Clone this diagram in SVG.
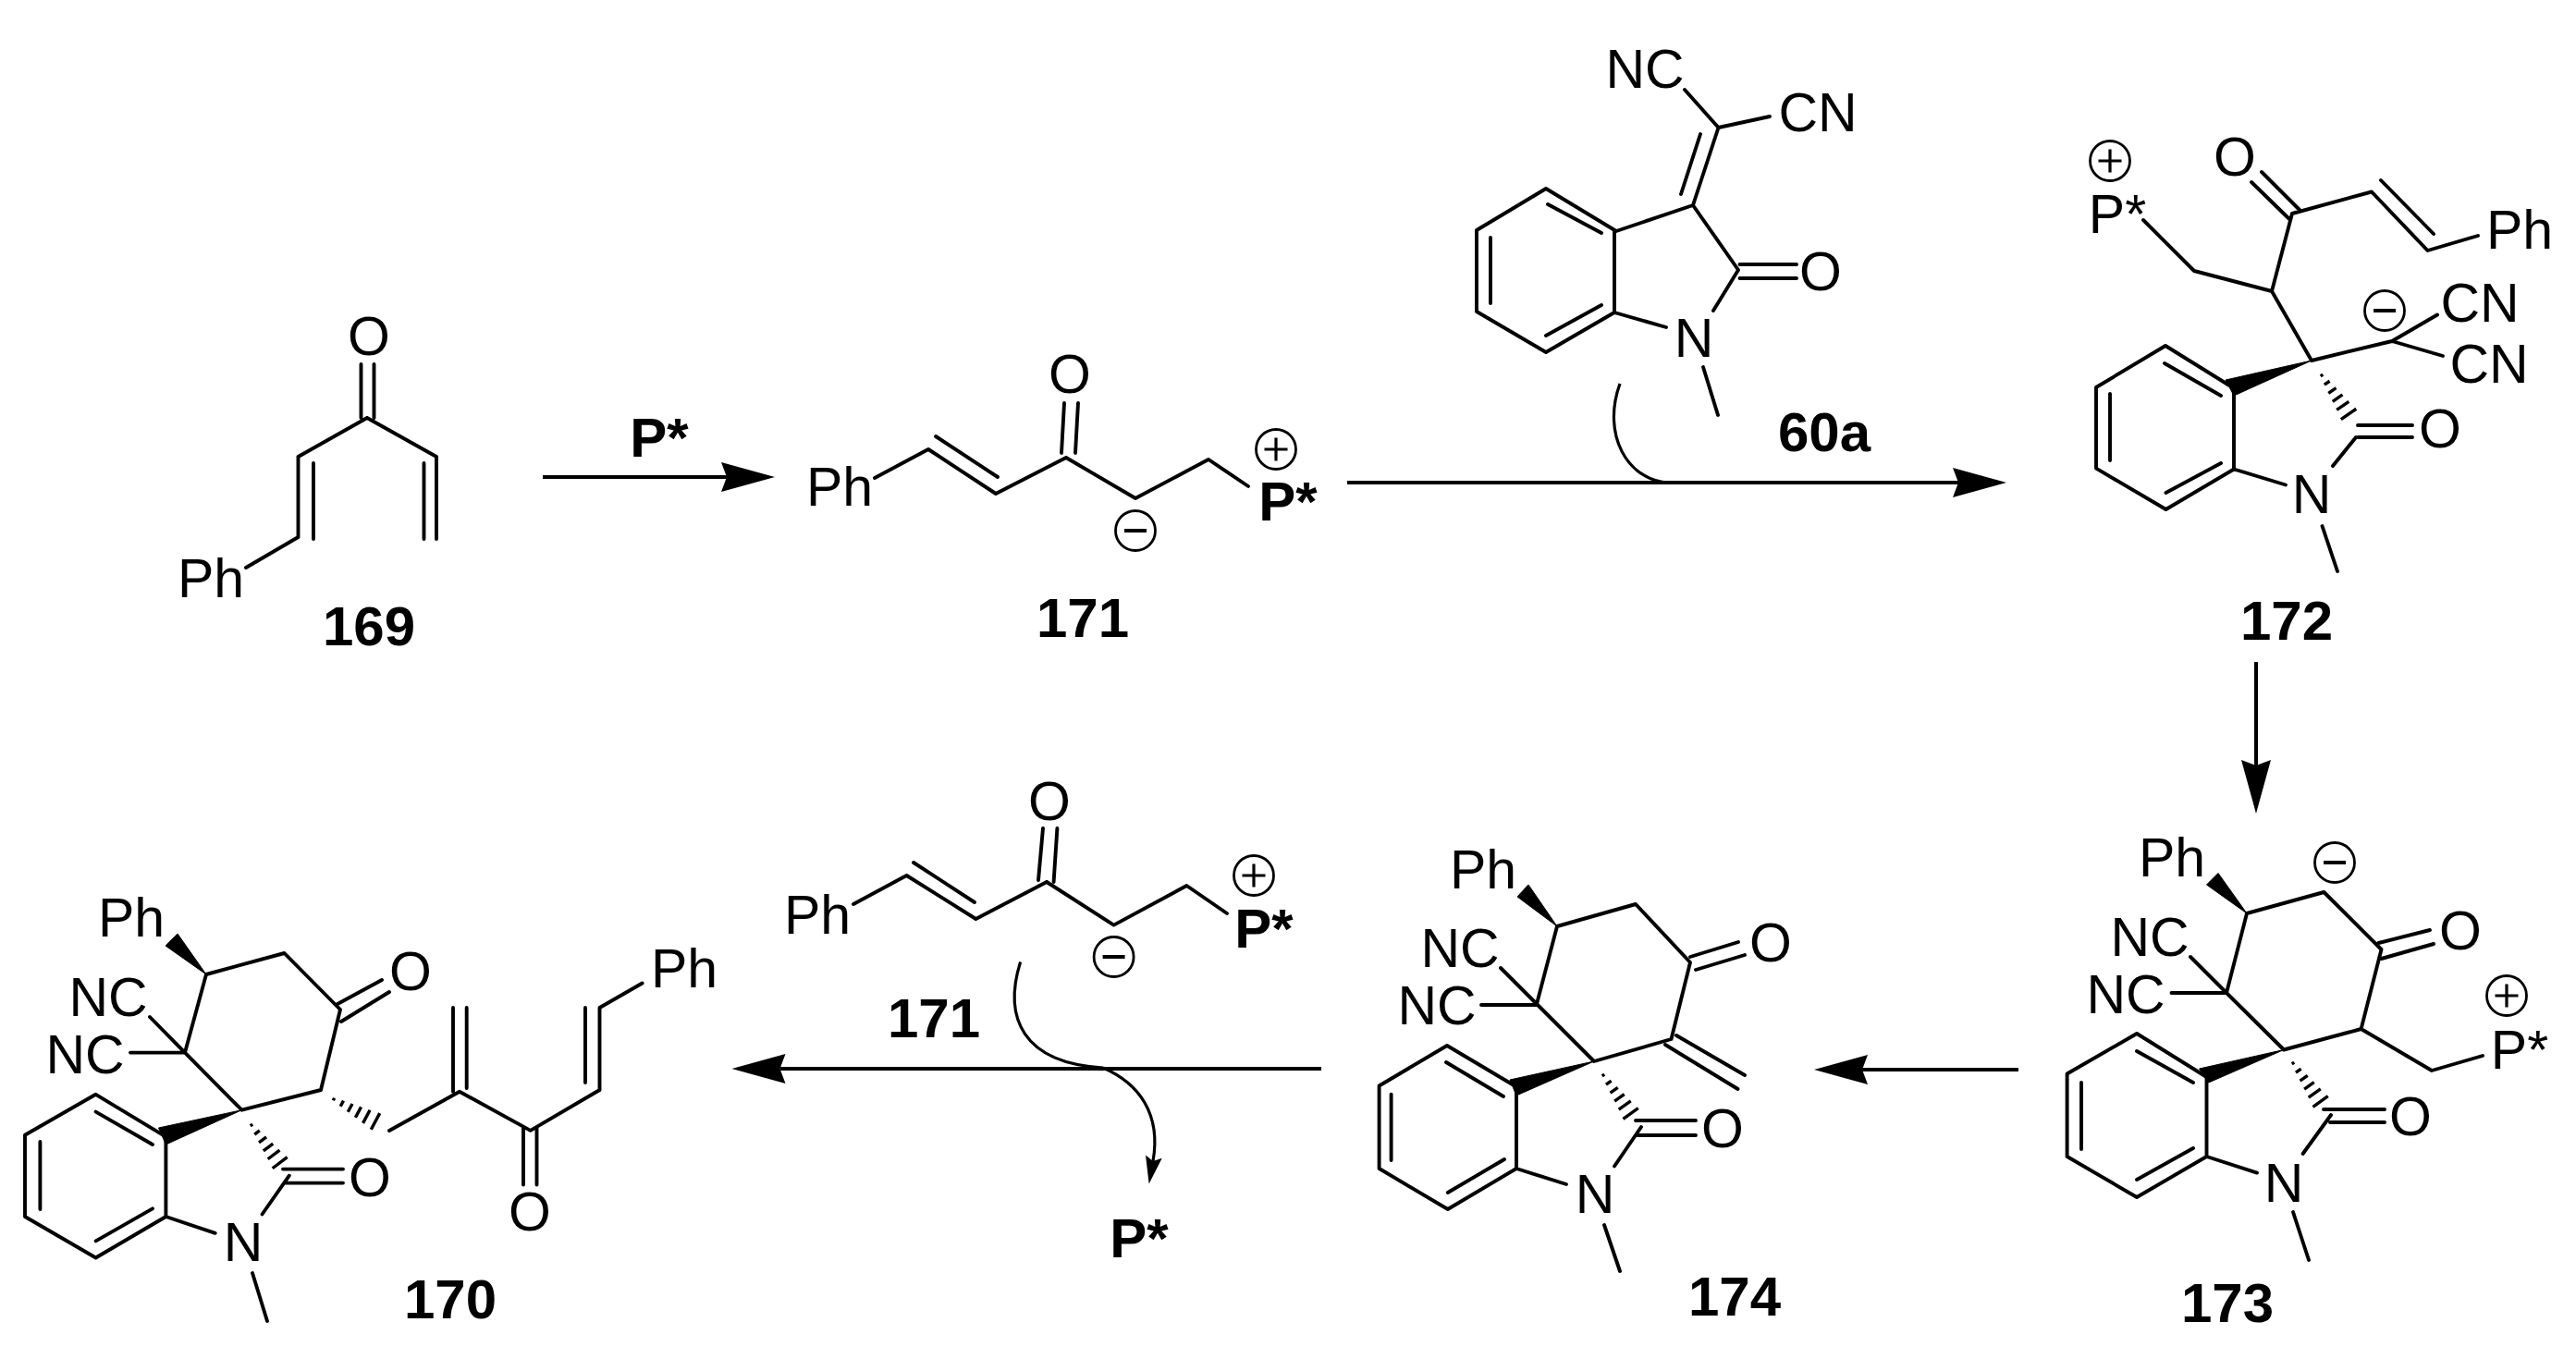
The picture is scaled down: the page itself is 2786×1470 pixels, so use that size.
<svg xmlns="http://www.w3.org/2000/svg" xmlns:xlink="http://www.w3.org/1999/xlink" width="2786" height="1470" viewBox="0 0 2786 1470">
<style>
.b{fill:none;stroke:#000;stroke-width:3.9;stroke-linecap:round;stroke-linejoin:round}
.w{fill:#000;stroke:#000;stroke-width:1;stroke-linejoin:round}
.t{font-family:"Liberation Sans",Arial,sans-serif;font-size:59px;fill:#000;text-anchor:middle}
.h{font-family:"Liberation Sans",Arial,sans-serif;font-size:60px;font-weight:bold;fill:#000;text-anchor:middle}
.a{fill:none;stroke:#000;stroke-width:4}
.c{fill:none;stroke:#000;stroke-width:3.2}
.m{fill:#000}
</style>
<defs>
<marker id="head" markerUnits="userSpaceOnUse" markerWidth="60" markerHeight="34" refX="6" refY="17" orient="auto"><path class="m" d="M58,17 L0,1 L6,17 L0,33 Z"/></marker>
<marker id="small" markerUnits="userSpaceOnUse" markerWidth="32" markerHeight="20" refX="5" refY="10" orient="auto"><path class="m" d="M30,10 L0,1 L5,10 L0,19 Z"/></marker>
<g id="hash"><path fill="none" stroke="#000" stroke-width="3.4" d="M0,-1.5V1.5M10,-3.5V3.5M20,-5V5M30,-6.5V6.5M40,-8V8M51,-10V10"/></g>
<g id="plus"><circle r="21.5" fill="none" stroke="#000" stroke-width="2.8"/><path fill="none" stroke="#000" stroke-width="3.2" d="M-12.5,0H12.5M0,-12.5V12.5"/></g>
<g id="minus"><circle r="21.5" fill="none" stroke="#000" stroke-width="2.8"/><path fill="none" stroke="#000" stroke-width="4" d="M-12,0H12"/></g>
</defs>
<rect width="2786" height="1470" fill="#fff"/>
<g id="mol-169">
<path class="b" d="M390.5,394V452M404.5,394V452M397,452L322.5,494M397,452L472,494M322.5,494V581M339,501V583M322.5,581L266,614M472,494V583M458.5,501V583"/>
<text class="t" x="399" y="384">O</text><text class="t" x="228" y="646">Ph</text><text class="h" x="399" y="698">169</text>
</g>
<g id="reagent-pstar"><text class="h" x="713" y="494">P*</text></g>
<g id="mol-171-top">
<path class="b" d="M946,517L1004,486L1077,534L1153,495M1012,472L1079,516M1148,490L1151,436M1163,490L1166,436M1153,495L1228,539L1307,497L1350,526"/>
<text class="t" x="908" y="547">Ph</text><text class="t" x="1157" y="425">O</text><text class="h" x="1393" y="563">P*</text>
<use xlink:href="#plus" href="#plus" x="1380" y="486"/><use xlink:href="#minus" href="#minus" x="1228" y="574"/>
<text class="h" x="1171" y="689">171</text>
</g>
<g id="mol-60a">
<path class="b" d="M1822,97L1858.5,138L1914,126M1858.5,138L1831,222M1839,145L1818,210M1831,222L1748,250L1672,204L1597,249V337L1672,381L1746,338V250M1732,252L1674,221M1612,257V328M1672,363L1732,330M1831,222L1880,292L1853,336M1746,338L1802,354M1881.5,286H1943M1881.5,301H1943M1842,397L1858,449"/>
<text class="t" x="1779" y="95">NC</text><text class="t" x="1966" y="142">CN</text><text class="t" x="1969" y="314">O</text><text class="t" x="1832" y="386">N</text>
<text class="h" x="1973" y="488">60a</text>
</g>
<g id="mol-172">
<path class="b" d="M2318,238L2373,293L2457,315L2479,231M2446,186L2487,227M2435,197L2476,237M2479,231L2565,207.5L2625.5,271L2680,255M2575,195L2632,253M2457,315L2500,390L2587,369L2636,340.5M2587,369L2642,385M2416,420L2342,374L2267,419V506.6L2342.5,551L2416,507.5V420M2402,428L2341,393M2282,426V498M2342.5,533L2402,501M2550,460H2609M2550,473H2609M2548,473L2523,504M2416,507.5L2472,524.5M2511.5,569L2528,618"/>
<polygon class="w" points="2500,390 2407,411 2416,428"/>
<use xlink:href="#hash" href="#hash" transform="translate(2511,406) rotate(55.3)"/>
<text class="t" x="2290" y="252">P*</text><use xlink:href="#plus" href="#plus" x="2282" y="174"/>
<text class="t" x="2417" y="190">O</text><text class="t" x="2725" y="269">Ph</text>
<text class="t" x="2682" y="348">CN</text><text class="t" x="2692" y="414">CN</text><use xlink:href="#minus" href="#minus" x="2579" y="336"/>
<text class="t" x="2639" y="484">O</text><text class="t" x="2500" y="555">N</text><text class="h" x="2473" y="692">172</text>
</g>
<g id="mol-173">
<path class="b" d="M2430,988L2513.4,965L2575.5,1027L2553.6,1113L2470,1135.5L2408,1074L2430,988M2572.5,1020L2628,1006M2575.5,1037L2632,1021M2553.6,1113L2630,1158L2685,1142M2408,1074H2348.5M2408,1074L2369,1035M2386.5,1165L2311,1118L2235.6,1161.5V1251L2311,1295L2386.5,1251V1165M2372,1171L2311,1137M2251,1171V1243M2311,1276L2372,1242M2513,1200H2579M2520,1214H2579M2521,1206L2490.6,1248M2386.5,1251L2441,1268.6M2480,1311L2497,1363"/>
<polygon class="w" points="2430,988 2399,944.5 2386.5,957"/><polygon class="w" points="2470,1135.5 2378.6,1156 2388.7,1171"/>
<use xlink:href="#hash" href="#hash" transform="translate(2480,1150) rotate(54.5)"/>
<text class="t" x="2349" y="948">Ph</text><text class="t" x="2325" y="1034">NC</text><text class="t" x="2299" y="1096">NC</text><text class="t" x="2661" y="1027">O</text>
<use xlink:href="#minus" href="#minus" x="2525" y="933"/><use xlink:href="#plus" href="#plus" x="2711" y="1077"/>
<text class="t" x="2725" y="1156">P*</text><text class="t" x="2607" y="1228">O</text><text class="t" x="2470" y="1300">N</text><text class="h" x="2409" y="1430">173</text>
</g>
<g id="mol-174">
<path class="b" d="M1684,1002L1769,978L1828,1041L1807.5,1124L1724,1148L1662,1086L1684,1002M1828,1035L1880,1019M1834,1049L1887,1033M1801,1130L1879.5,1178M1813,1120L1887,1163M1662,1087H1602M1662,1086L1623,1047M1639,1175L1565,1131L1491.6,1174.5V1264L1565.8,1308L1640,1264V1175M1626,1186L1564,1149M1504.6,1183.6V1255M1565.8,1290L1627,1254M1769,1212H1834M1771,1228H1834M1775,1219L1746,1261.5M1640,1264L1694,1281M1735,1325L1752,1375"/>
<polygon class="w" points="1684,1002 1653,957 1641,970"/><polygon class="w" points="1724,1148 1633,1168 1640,1185"/>
<use xlink:href="#hash" href="#hash" transform="translate(1734,1163) rotate(54.5)"/>
<text class="t" x="1604" y="961">Ph</text><text class="t" x="1579" y="1046">NC</text><text class="t" x="1554" y="1108">NC</text><text class="t" x="1915" y="1040">O</text><text class="t" x="1863" y="1241">O</text><text class="t" x="1725" y="1312">N</text><text class="h" x="1876" y="1423">174</text>
</g>
<g id="mol-171-bottom">
<path class="b" d="M923,978L980.5,947L1055.4,994L1132,954M988,933L1054,976M1123,952L1128,896M1139.6,954L1143.4,896M1132,954L1204.6,1000.6L1283.4,958L1327,988"/>
<text class="t" x="884" y="1010">Ph</text><text class="t" x="1135" y="887">O</text><text class="h" x="1367" y="1025">P*</text>
<use xlink:href="#plus" href="#plus" x="1356" y="947"/><use xlink:href="#minus" href="#minus" x="1204.6" y="1035"/>
<text class="h" x="1010" y="1122">171</text>
</g>
<g id="product-pstar"><text class="h" x="1232" y="1360">P*</text></g>
<g id="mol-170">
<path class="b" d="M223,1054L307.5,1031L368,1092L347,1179L261.5,1200.7L200,1138.6L223,1054M365,1086L413,1060M369,1105L421,1073M200,1138.6H141M200,1138.6L162,1100M179.4,1229.6L103.6,1183.8L27,1227.7V1316L103.6,1360.5L179.4,1316V1229.6M165,1238L103.6,1202.6M43.4,1235V1308M103.6,1342.4L165,1307.4M306,1264.6H371M308.6,1279.6H371M312.8,1271.7L283.5,1313.5M179.4,1316L232.7,1333.8M273,1377L289,1429M421,1223L497,1180.8L573.7,1222.9L648.5,1179V1090L694.6,1063.5M490,1180.8V1090M504.7,1177V1090M566,1220V1281.5M580.5,1220V1281.5M633,1171V1090"/>
<polygon class="w" points="223,1054 192,1010 179,1023"/><polygon class="w" points="261.5,1200.7 171.5,1220 179.4,1238"/>
<use xlink:href="#hash" href="#hash" transform="translate(272,1217) rotate(53)"/>
<use xlink:href="#hash" href="#hash" transform="translate(361,1189) rotate(28)"/>
<text class="t" x="142" y="1013">Ph</text><text class="t" x="117" y="1099">NC</text><text class="t" x="92" y="1161">NC</text><text class="t" x="444" y="1071">O</text><text class="t" x="400" y="1294">O</text><text class="t" x="573" y="1331">O</text><text class="t" x="263" y="1364">N</text><text class="t" x="740" y="1068">Ph</text><text class="h" x="487" y="1426">170</text>
</g>
<g id="connectors">
<line class="a" x1="587" y1="516" x2="786" y2="516" marker-end="url(#head)"/>
<line class="a" x1="1457" y1="522" x2="2118" y2="522" marker-end="url(#head)"/>
<line class="a" x1="2440" y1="716" x2="2440" y2="828" marker-end="url(#head)"/>
<line class="a" x1="2183" y1="1157" x2="2014" y2="1157" marker-end="url(#head)"/>
<line class="a" x1="1429" y1="1156" x2="843.5" y2="1156" marker-end="url(#head)"/>
<path class="c" d="M1752,415C1732,470 1760,520 1805,522"/>
<path class="c" d="M1103.6,1040.6C1085,1100 1105,1150 1193,1155"/>
<path class="c" d="M1193,1155C1232,1172 1256,1205 1247,1256" marker-end="url(#small)"/>
</g>
</svg>
